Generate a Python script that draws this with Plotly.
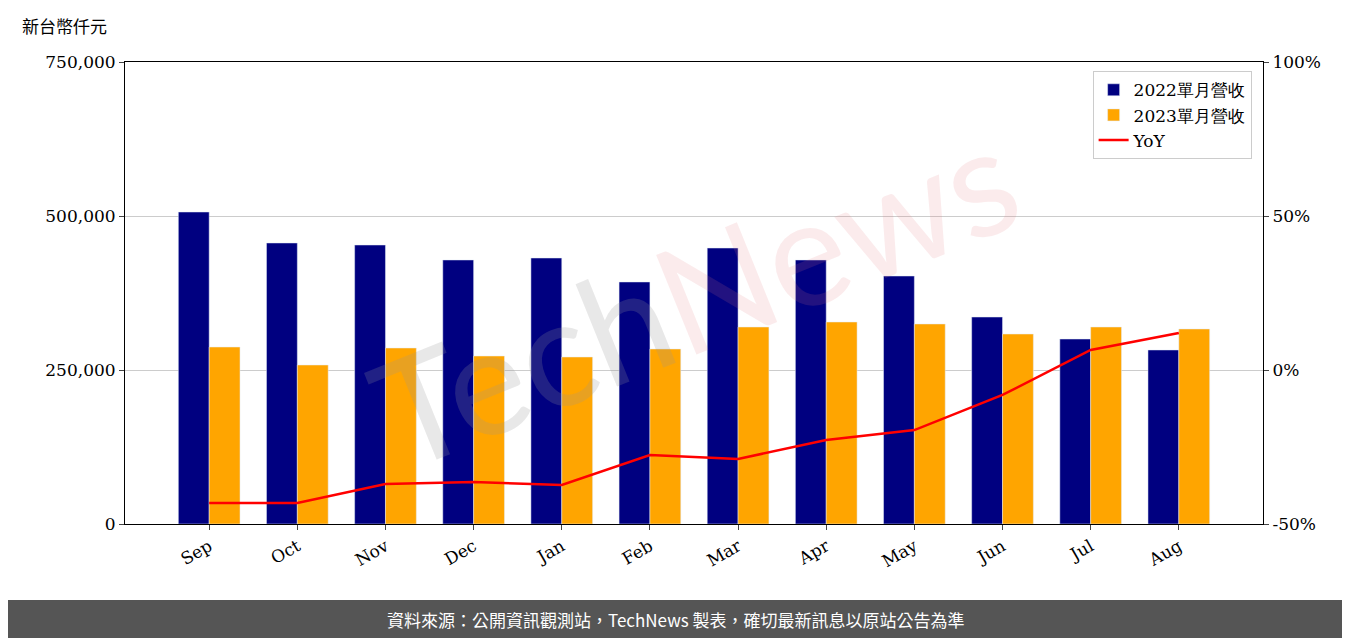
import plotly.graph_objects as go

months = ["Sep","Oct","Nov","Dec","Jan","Feb","Mar","Apr","May","Jun","Jul","Aug"]
rev2022 = [506500,456200,452900,428600,431800,392900,448000,428600,402600,336000,300300,282500]
rev2023 = [287300,258100,285700,272700,271100,284100,319800,327900,324700,308400,319800,316600]
yoy = [-43.2,-43.2,-37.0,-36.4,-37.3,-27.6,-28.9,-22.7,-19.5,-8.1,6.5,12.0]

serif = "DejaVu Serif"
fig = go.Figure()
fig.add_bar(x=months, y=rev2022, name="2022單月營收", marker_color="#000080")
fig.add_bar(x=months, y=rev2023, name="2023單月營收", marker_color="#FFA500")
fig.add_scatter(x=months, y=yoy, name="YoY", mode="lines", line=dict(color="red", width=2.5), yaxis="y2")

W, H = 1135, 462
fig.update_layout(
    width=1342, height=630, plot_bgcolor="white", paper_bgcolor="white",
    margin=dict(l=117, r=87, t=54, b=114),
    barmode="group", bargap=0.3, bargroupgap=0,
    font=dict(family=serif, size=17, color="black"),
    xaxis=dict(showline=True, linecolor="black", mirror=True, ticks="outside", tickangle=-30,
               range=[-0.955, 11.955], showgrid=False),
    yaxis=dict(range=[0, 750000], tickvals=[0,250000,500000,750000],
               ticktext=["0","250,000","500,000","750,000"], showline=True, linecolor="black",
               ticks="outside", gridcolor="#cccccc", zeroline=False),
    yaxis2=dict(overlaying="y", side="right", range=[-50, 100], tickvals=[-50,0,50,100],
                ticktext=["-50%","0%","50%","100%"], showgrid=False, ticks="outside",
                showline=True, linecolor="black", zeroline=False),
    legend=dict(x=0.99, y=0.98, xanchor="right", yanchor="top", bordercolor="#cccccc",
                borderwidth=1, bgcolor="rgba(255,255,255,0.8)", font=dict(size=17)),
    showlegend=True,
)
fig.add_annotation(text="<span style='color:rgba(150,150,150,0.22)'>Tech</span><span style='color:rgba(230,120,130,0.15)'>News</span>",
                   xref="paper", yref="paper", x=0.5, y=0.5, showarrow=False,
                   textangle=-22, font=dict(size=150, family="Lato"))
fig.add_annotation(text="新台幣仟元", xref="paper", yref="paper", x=-105/W, y=1+36/H,
                   xanchor="left", yanchor="middle", showarrow=False,
                   font=dict(family="Noto Sans CJK TC", size=17))
fig.add_shape(type="rect", xref="paper", yref="paper", x0=-117/W, x1=1+90/W,
              y0=-114/H, y1=-76/H, fillcolor="#555555", line_width=0, layer="below")
fig.add_annotation(text="資料來源：公開資訊觀測站，TechNews 製表，確切最新訊息以原站公告為準",
                   xref="paper", yref="paper", x=(675-125)/W, y=-95/H, showarrow=False,
                   xanchor="center", yanchor="middle",
                   font=dict(family="Noto Sans CJK TC", size=17, color="white"))
fig.write_html("out.html")
